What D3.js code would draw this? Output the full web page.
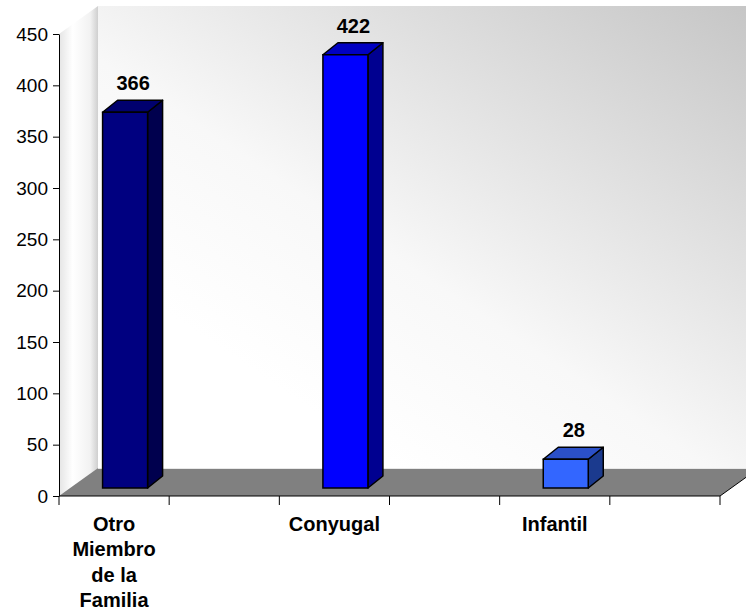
<!DOCTYPE html>
<html>
<head>
<meta charset="utf-8">
<script src="https://cdn.jsdelivr.net/npm/d3@7"></script>
<style>
    html, body { margin: 0; padding: 0; background: #fff; }
    svg { display: block; font-family: "Liberation Sans", Arial, sans-serif; }
    .tick-label { font-size: 19px; fill: #000; }
    .cat-label { font-size: 20px; font-weight: bold; fill: #000; }
    .value-label { font-size: 20px; font-weight: bold; fill: #000; }
</style>
</head>
<body>
<svg id="chart" width="746" height="612"></svg>
<script>
// data (empty slots keep the gaps between the bars)
const categories = ["Otro Miembro de la Familia", "", "Conyugal", "", "Infantil", ""];
const values = [366, null, 422, null, 28, null];
const yTicks = [0, 50, 100, 150, 200, 250, 300, 350, 400, 450];
const barColors = [
    { front: "#000080", top: "#00006e", side: "#00004e" },
    null,
    { front: "#0000ff", top: "#0000c2", side: "#000090" },
    null,
    { front: "#3366ff", top: "#2b50c8", side: "#1b3a8e" },
    null
];

const svg = d3.select("#chart");
const W = 746;

const x = d3.scaleBand().domain(d3.range(categories.length)).range([59, 720]);
const y = d3.scaleLinear().domain([0, 450]).range([496, 34]);

// depth of the 3d box, and of the bars inside it
const depth = { dx: 39, dy: -28 };
const barOff = { dx: 11, dy: -8 };
const barDepth = { dx: 15, dy: -12 };
const barW = 45;

const defs = svg.append("defs");

const wallGrad = defs.append("linearGradient")
    .attr("id", "wallGrad")
    .attr("x1", 0.25).attr("y1", 0.8)
    .attr("x2", 1).attr("y2", 0);
wallGrad.append("stop").attr("offset", 0).attr("stop-color", "#ffffff");
wallGrad.append("stop").attr("offset", 0.3).attr("stop-color", "#f8f8f8");
wallGrad.append("stop").attr("offset", 1).attr("stop-color", "#c6c6c6");

const sideGrad = defs.append("linearGradient")
    .attr("id", "sideGrad")
    .attr("x1", 0).attr("y1", 0)
    .attr("x2", 1).attr("y2", 0);
sideGrad.append("stop").attr("offset", 0).attr("stop-color", "#e4e4e4");
sideGrad.append("stop").attr("offset", 0.35).attr("stop-color", "#ffffff");
sideGrad.append("stop").attr("offset", 0.8).attr("stop-color", "#f2f2f2");
sideGrad.append("stop").attr("offset", 1).attr("stop-color", "#cfcfcf");

const x0 = x.range()[0];
const x1 = x.range()[1];
const yTop = y(450);
const yBase = y(0);

// back wall
svg.append("rect")
    .attr("x", x0 + depth.dx)
    .attr("y", yTop + depth.dy)
    .attr("width", W - (x0 + depth.dx))
    .attr("height", yBase - yTop)
    .attr("fill", "url(#wallGrad)");

// side wall
svg.append("path")
    .attr("d", d3.line()([
        [x0, yTop], [x0 + depth.dx, yTop + depth.dy],
        [x0 + depth.dx, yBase + depth.dy], [x0, yBase]
    ]) + "Z")
    .attr("fill", "url(#sideGrad)");

// floor
svg.append("path")
    .attr("d", d3.line()([
        [x0, yBase], [x1, yBase],
        [x1 + depth.dx, yBase + depth.dy], [x0 + depth.dx, yBase + depth.dy]
    ]) + "Z")
    .attr("fill", "#808080");

svg.append("line")
    .attr("x1", x0 + depth.dx).attr("x2", W)
    .attr("y1", yBase + depth.dy + 0.5).attr("y2", yBase + depth.dy + 0.5)
    .attr("stroke", "#e8e8e8").attr("stroke-width", 1);

svg.append("line")
    .attr("x1", x1).attr("y1", yBase)
    .attr("x2", x1 + depth.dx).attr("y2", yBase + depth.dy)
    .attr("stroke", "#000").attr("stroke-width", 1);

// axes
const yAxis = svg.append("g")
    .attr("transform", `translate(${x0},0)`)
    .call(d3.axisLeft(y).tickValues(yTicks).tickSize(6).tickPadding(5).tickSizeOuter(0));
yAxis.attr("font-size", null).attr("font-family", null);
yAxis.select(".domain").attr("stroke", "#000");
yAxis.selectAll(".tick line").attr("stroke", "#000");
yAxis.selectAll(".tick text").attr("class", "tick-label");

const xAxis = svg.append("g")
    .attr("transform", `translate(0,${yBase})`);
xAxis.append("line")
    .attr("x1", x0).attr("x2", x1)
    .attr("stroke", "#000");
xAxis.selectAll(".xtick")
    .data(d3.range(categories.length + 1))
    .join("line")
    .attr("class", "xtick")
    .attr("x1", i => i < categories.length ? x(i) : x1)
    .attr("x2", i => i < categories.length ? x(i) : x1)
    .attr("y1", 0).attr("y2", 9)
    .attr("stroke", "#000");

// category labels, wrapped to the band width
const catText = svg.append("g").selectAll("text")
    .data(categories.map((c, i) => ({ c, i })).filter(d => d.c))
    .join("text")
    .attr("class", "cat-label")
    .attr("text-anchor", "middle")
    .attr("x", d => x(d.i) + x.bandwidth() / 2)
    .attr("y", 531);

catText.each(function(d) {
    const t = d3.select(this);
    const words = d.c.split(/\s+/);
    const lines = [];
    let line = [];
    const probe = t.append("tspan");
    words.forEach(w => {
        const test = line.concat(w).join(" ");
        probe.text(test);
        if (probe.node().getComputedTextLength() > x.bandwidth() && line.length) {
            lines.push(line.join(" "));
            line = [w];
        } else {
            line.push(w);
        }
    });
    lines.push(line.join(" "));
    probe.remove();
    lines.forEach((l, k) => {
        t.append("tspan")
            .attr("x", x(d.i) + x.bandwidth() / 2)
            .attr("dy", k === 0 ? 0 : 25.4)
            .text(l);
    });
});

// bars
const bars = categories.map((c, i) => ({ i, v: values[i], col: barColors[i] }))
    .filter(d => d.v != null);

const barG = svg.append("g").selectAll("g")
    .data(bars)
    .join("g");

function barCorners(d) {
    const left = x(d.i) + (x.bandwidth() - barW) / 2 + barOff.dx;
    const right = left + barW;
    const top = y(d.v) + barOff.dy;
    const bottom = y(0) + barOff.dy;
    return { left, right, top, bottom };
}

barG.append("path")
    .attr("d", d => {
        const b = barCorners(d);
        return d3.line()([
            [b.right, b.top], [b.right + barDepth.dx, b.top + barDepth.dy],
            [b.right + barDepth.dx, b.bottom + barDepth.dy], [b.right, b.bottom]
        ]) + "Z";
    })
    .attr("fill", d => d.col.side)
    .attr("stroke", "#000").attr("stroke-width", 1.5).attr("stroke-linejoin", "round");

barG.append("path")
    .attr("d", d => {
        const b = barCorners(d);
        return d3.line()([
            [b.left, b.top], [b.left + barDepth.dx, b.top + barDepth.dy],
            [b.right + barDepth.dx, b.top + barDepth.dy], [b.right, b.top]
        ]) + "Z";
    })
    .attr("fill", d => d.col.top)
    .attr("stroke", "#000").attr("stroke-width", 1.5).attr("stroke-linejoin", "round");

barG.append("rect")
    .attr("x", d => barCorners(d).left)
    .attr("y", d => barCorners(d).top)
    .attr("width", barW)
    .attr("height", d => barCorners(d).bottom - barCorners(d).top)
    .attr("fill", d => d.col.front)
    .attr("stroke", "#000").attr("stroke-width", 1.5);

// value labels
barG.append("text")
    .attr("class", "value-label")
    .attr("text-anchor", "middle")
    .attr("x", d => barCorners(d).left + barW / 2 + 8)
    .attr("y", d => barCorners(d).top + barDepth.dy - 10)
    .text(d => d.v);
</script>
</body>
</html>
